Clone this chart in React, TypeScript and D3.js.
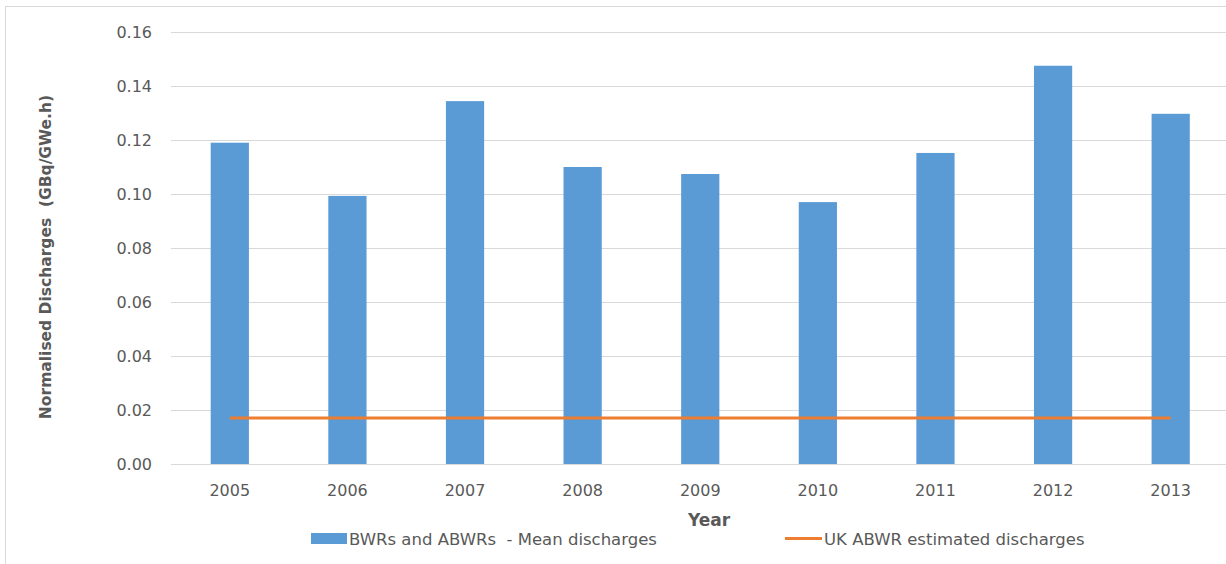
import React, { useEffect, useRef } from "react";
import * as d3 from "d3";

// Chart data
const years = ["2005", "2006", "2007", "2008", "2009", "2010", "2011", "2012", "2013"];
const meanDischarges = [0.119, 0.0993, 0.1344, 0.110, 0.1074, 0.097, 0.1152, 0.1475, 0.1297];
const ukEstimate = [0.017, 0.017, 0.017, 0.017, 0.017, 0.017, 0.017, 0.017, 0.017];
const yTicks = [0, 0.02, 0.04, 0.06, 0.08, 0.1, 0.12, 0.14, 0.16];

const barLabel = "BWRs and ABWRs  - Mean discharges";
const lineLabel = "UK ABWR estimated discharges";

const W = 1226;
const H = 564;
const BLUE = "#5B9BD5";
const ORANGE = "#ED7D31";
const TEXT = "#595959";
const FONT = "'DejaVu Sans', sans-serif";

export default function App() {
  const ref = useRef<SVGSVGElement | null>(null);

  useEffect(() => {
    if (!ref.current) return;
    const svg = d3.select(ref.current);
    svg.selectAll("*").remove();

    // plot area
    const left = 171;
    const right = 1229.5;
    const top = 32;
    const bottom = 464;

    const x = d3.scaleBand<string>().domain(years).range([left, right]).paddingInner(0.675).paddingOuter(0.3375);
    const y = d3.scaleLinear().domain([0, 0.16]).range([bottom, top]);

    // outer chart border
    svg.append("rect")
      .attr("x", 5.5).attr("y", 6.5)
      .attr("width", W + 20).attr("height", H + 20)
      .attr("fill", "#fff")
      .attr("stroke", "#d9d9d9");

    // gridlines
    svg.append("g")
      .selectAll("line")
      .data(yTicks)
      .join("line")
      .attr("x1", left).attr("x2", right)
      .attr("y1", (d) => Math.round(y(d)) + 0.5)
      .attr("y2", (d) => Math.round(y(d)) + 0.5)
      .attr("stroke", "#d9d9d9")
      .attr("stroke-width", 1.2);

    // y tick labels
    svg.append("g")
      .selectAll("text")
      .data(yTicks)
      .join("text")
      .attr("x", 152)
      .attr("y", (d) => y(d))
      .attr("dy", "0.36em")
      .attr("text-anchor", "end")
      .attr("font-family", FONT)
      .attr("font-size", 16)
      .attr("fill", TEXT)
      .text((d) => d3.format(".2f")(d));

    // bars
    svg.append("g")
      .selectAll("rect")
      .data(meanDischarges)
      .join("rect")
      .attr("x", (_, i) => x(years[i])!)
      .attr("y", (d) => y(d))
      .attr("width", x.bandwidth())
      .attr("height", (d) => bottom - y(d))
      .attr("fill", BLUE);

    // x tick labels
    svg.append("g")
      .selectAll("text")
      .data(years)
      .join("text")
      .attr("x", (d) => x(d)! + x.bandwidth() / 2)
      .attr("y", 496)
      .attr("text-anchor", "middle")
      .attr("font-family", FONT)
      .attr("font-size", 16)
      .attr("fill", TEXT)
      .text((d) => d);

    // UK estimate line
    const line = d3.line<number>()
      .x((_, i) => x(years[i])! + x.bandwidth() / 2)
      .y((d) => y(d));
    svg.append("path")
      .datum(ukEstimate)
      .attr("d", line)
      .attr("fill", "none")
      .attr("stroke", ORANGE)
      .attr("stroke-width", 3);

    // axis titles
    svg.append("text")
      .attr("transform", `translate(51,257) rotate(-90)`)
      .attr("text-anchor", "middle")
      .attr("font-family", FONT)
      .attr("font-weight", "bold")
      .attr("font-size", 15.5)
      .attr("fill", TEXT)
      .style("white-space", "pre")
      .text("Normalised Discharges  (GBq/GWe.h)");

    svg.append("text")
      .attr("x", 709)
      .attr("y", 526)
      .attr("text-anchor", "middle")
      .attr("font-family", FONT)
      .attr("font-weight", "bold")
      .attr("font-size", 17)
      .attr("fill", TEXT)
      .text("Year");

    // legend
    const lg = svg.append("g")
      .attr("font-family", FONT)
      .attr("font-size", 16.5)
      .attr("fill", TEXT);
    lg.append("rect").attr("x", 311).attr("y", 533).attr("width", 36).attr("height", 11).attr("fill", BLUE);
    lg.append("text")
      .attr("x", 349).attr("y", 539).attr("dy", "0.36em")
      .attr("xml:space", "preserve")
      .style("white-space", "pre")
      .text(barLabel);
    lg.append("line")
      .attr("x1", 785).attr("x2", 822)
      .attr("y1", 538.5).attr("y2", 538.5)
      .attr("stroke", ORANGE).attr("stroke-width", 3);
    lg.append("text").attr("x", 824).attr("y", 539).attr("dy", "0.36em").text(lineLabel);
  }, []);

  return (
    <svg
      ref={ref}
      width={W}
      height={H}
      style={{ position: "absolute", left: 0, top: 0, display: "block", background: "#fff" }}
    />
  );
}
